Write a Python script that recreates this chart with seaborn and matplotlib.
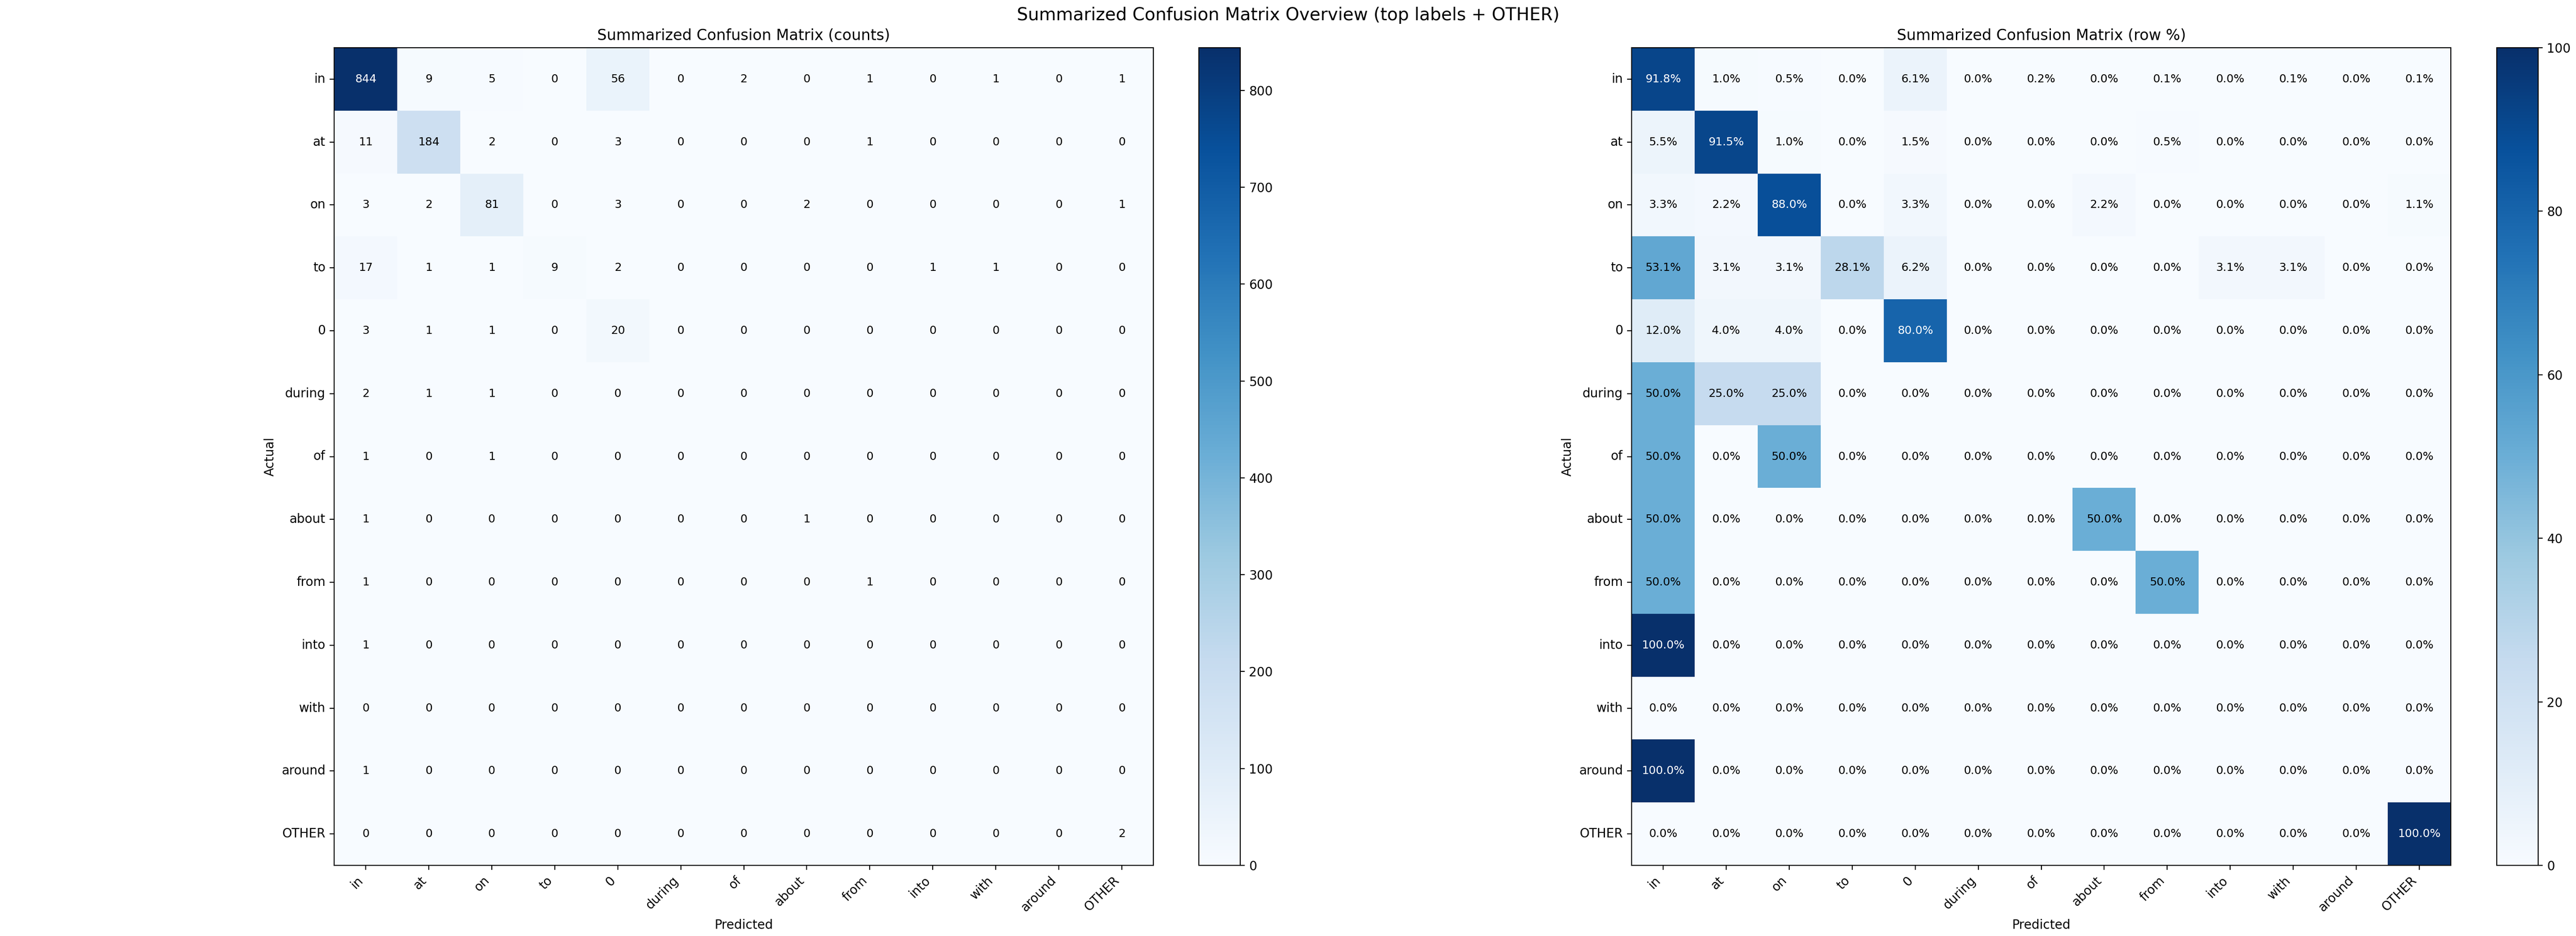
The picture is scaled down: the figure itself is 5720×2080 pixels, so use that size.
import numpy as np
import matplotlib
matplotlib.use("Agg")
import matplotlib.pyplot as plt
import seaborn as sns

labels = ["in", "at", "on", "to", "0", "during", "of", "about", "from", "into", "with", "around", "OTHER"]

counts_in     = [844, 9, 5, 0, 56, 0, 2, 0, 1, 0, 1, 0, 1]
counts_at     = [11, 184, 2, 0, 3, 0, 0, 0, 1, 0, 0, 0, 0]
counts_on     = [3, 2, 81, 0, 3, 0, 0, 2, 0, 0, 0, 0, 1]
counts_to     = [17, 1, 1, 9, 2, 0, 0, 0, 0, 1, 1, 0, 0]
counts_zero   = [3, 1, 1, 0, 20, 0, 0, 0, 0, 0, 0, 0, 0]
counts_during = [2, 1, 1, 0, 0, 0, 0, 0, 0, 0, 0, 0, 0]
counts_of     = [1, 0, 1, 0, 0, 0, 0, 0, 0, 0, 0, 0, 0]
counts_about  = [1, 0, 0, 0, 0, 0, 0, 1, 0, 0, 0, 0, 0]
counts_from   = [1, 0, 0, 0, 0, 0, 0, 0, 1, 0, 0, 0, 0]
counts_into   = [1, 0, 0, 0, 0, 0, 0, 0, 0, 0, 0, 0, 0]
counts_with   = [0, 0, 0, 0, 0, 0, 0, 0, 0, 0, 0, 0, 0]
counts_around = [1, 0, 0, 0, 0, 0, 0, 0, 0, 0, 0, 0, 0]
counts_other  = [0, 0, 0, 0, 0, 0, 0, 0, 0, 0, 0, 0, 2]

pct_in     = [91.8, 1.0, 0.5, 0.0, 6.1, 0.0, 0.2, 0.0, 0.1, 0.0, 0.1, 0.0, 0.1]
pct_at     = [5.5, 91.5, 1.0, 0.0, 1.5, 0.0, 0.0, 0.0, 0.5, 0.0, 0.0, 0.0, 0.0]
pct_on     = [3.3, 2.2, 88.0, 0.0, 3.3, 0.0, 0.0, 2.2, 0.0, 0.0, 0.0, 0.0, 1.1]
pct_to     = [53.1, 3.1, 3.1, 28.1, 6.2, 0.0, 0.0, 0.0, 0.0, 3.1, 3.1, 0.0, 0.0]
pct_zero   = [12.0, 4.0, 4.0, 0.0, 80.0, 0.0, 0.0, 0.0, 0.0, 0.0, 0.0, 0.0, 0.0]
pct_during = [50.0, 25.0, 25.0, 0.0, 0.0, 0.0, 0.0, 0.0, 0.0, 0.0, 0.0, 0.0, 0.0]
pct_of     = [50.0, 0.0, 50.0, 0.0, 0.0, 0.0, 0.0, 0.0, 0.0, 0.0, 0.0, 0.0, 0.0]
pct_about  = [50.0, 0.0, 0.0, 0.0, 0.0, 0.0, 0.0, 50.0, 0.0, 0.0, 0.0, 0.0, 0.0]
pct_from   = [50.0, 0.0, 0.0, 0.0, 0.0, 0.0, 0.0, 0.0, 50.0, 0.0, 0.0, 0.0, 0.0]
pct_into   = [100.0, 0.0, 0.0, 0.0, 0.0, 0.0, 0.0, 0.0, 0.0, 0.0, 0.0, 0.0, 0.0]
pct_with   = [0.0, 0.0, 0.0, 0.0, 0.0, 0.0, 0.0, 0.0, 0.0, 0.0, 0.0, 0.0, 0.0]
pct_around = [100.0, 0.0, 0.0, 0.0, 0.0, 0.0, 0.0, 0.0, 0.0, 0.0, 0.0, 0.0, 0.0]
pct_other  = [0.0, 0.0, 0.0, 0.0, 0.0, 0.0, 0.0, 0.0, 0.0, 0.0, 0.0, 0.0, 100.0]

counts = np.array([counts_in, counts_at, counts_on, counts_to, counts_zero, counts_during,
                   counts_of, counts_about, counts_from, counts_into, counts_with,
                   counts_around, counts_other])
pcts = np.array([pct_in, pct_at, pct_on, pct_to, pct_zero, pct_during, pct_of,
                 pct_about, pct_from, pct_into, pct_with, pct_around, pct_other])

W, H = 5720, 2080
fig = plt.figure(figsize=(W / 200, H / 200), dpi=200)

def frac(x0, x1, ytop, ybot):
    return [x0 / W, 1 - ybot / H, (x1 - x0) / W, (ybot - ytop) / H]

ax1 = fig.add_axes(frac(742, 2561, 106, 1923))
cax1 = fig.add_axes(frac(2662, 2754, 106, 1923))
ax2 = fig.add_axes(frac(3623, 5442, 106, 1923))
cax2 = fig.add_axes(frac(5544, 5636, 106, 1923))

def draw(ax, cax, data, annot, vmax, title, ticks):
    sns.heatmap(data, ax=ax, cbar_ax=cax, cmap="Blues", vmin=0, vmax=vmax,
                annot=annot, fmt="", annot_kws={"fontsize": 9},
                xticklabels=labels, yticklabels=labels, square=False,
                cbar_kws={"ticks": ticks})
    for t, v in zip(ax.texts, data.flatten()):
        t.set_color("white" if v > 0.6 * vmax else "black")
    for s in ax.spines.values():
        s.set_visible(True)
        s.set_linewidth(0.8)
        s.set_color("black")
    ax.set_title(title, fontsize=12)
    ax.set_xlabel("Predicted", fontsize=10)
    ax.set_ylabel("Actual", fontsize=10)
    ax.set_xticklabels(labels, rotation=45, ha="right", fontsize=10)
    ax.set_yticklabels(labels, rotation=0, fontsize=10)
    ax.tick_params(length=3.5, width=0.8)
    cb = ax.collections[0].colorbar
    cb.outline.set_visible(True)
    cb.outline.set_linewidth(0.8)
    cb.outline.set_edgecolor("black")
    cb.ax.tick_params(labelsize=10, length=3.5, width=0.8)

count_annot = np.array([[str(v) for v in row] for row in counts])
pct_annot = np.array([[f"{v:.1f}%" for v in row] for row in pcts])

draw(ax1, cax1, counts, count_annot, counts.max(), "Summarized Confusion Matrix (counts)",
     [0, 100, 200, 300, 400, 500, 600, 700, 800])
draw(ax2, cax2, pcts, pct_annot, 100, "Summarized Confusion Matrix (row %)",
     [0, 20, 40, 60, 80, 100])

fig.suptitle("Summarized Confusion Matrix Overview (top labels + OTHER)", fontsize=14, y=0.993)

fig.savefig("out.png", dpi=200)
